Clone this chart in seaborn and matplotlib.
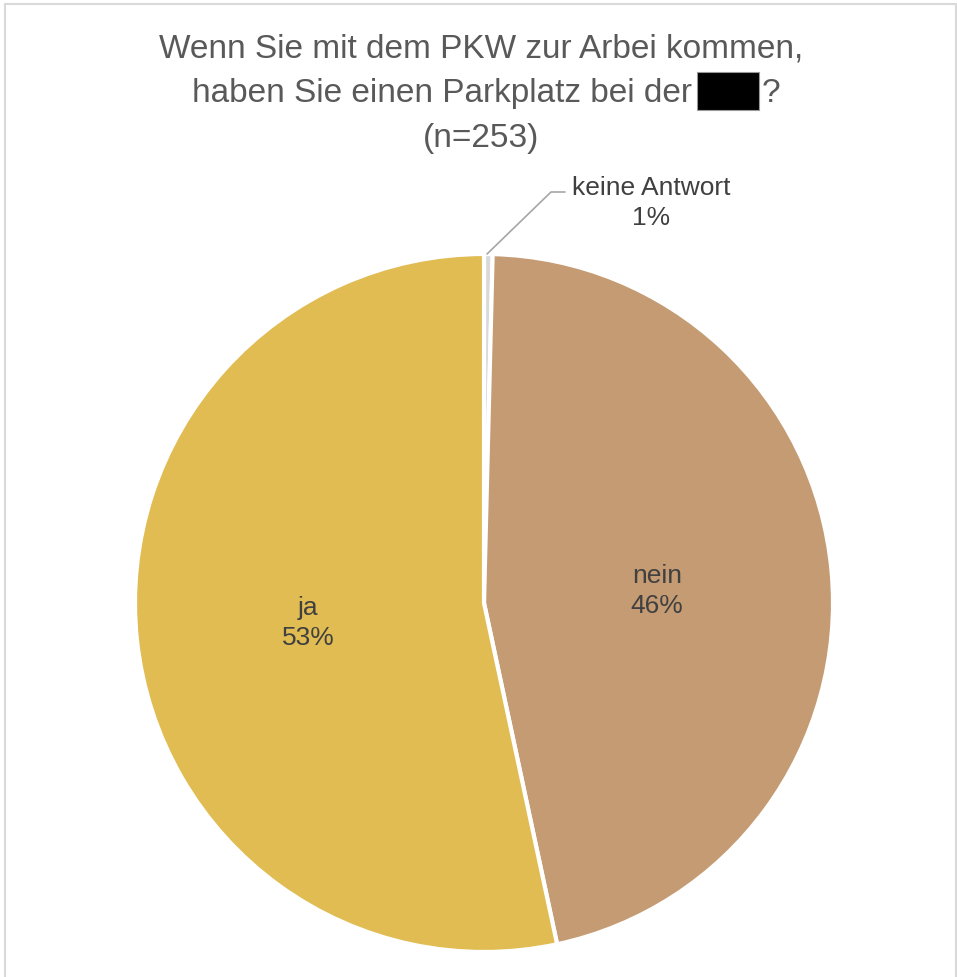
import matplotlib
matplotlib.use("Agg")
import matplotlib.pyplot as plt
import seaborn as sns
from matplotlib.patches import Rectangle
from matplotlib.lines import Line2D

categories = ["keine Antwort", "nein", "ja"]
counts = [1, 117, 135]
pct_labels = ["1%", "46%", "53%"]
colors = ["#D9D9D9", "#C49B72", "#E1BC53"]
title_line1 = "Wenn Sie mit dem PKW zur Arbei kommen,"
title_line2 = "haben Sie einen Parkplatz bei der"
title_line3 = "(n=253)"

sns.set_theme(style="white")
plt.rcParams['font.family'] = ['Liberation Sans', 'DejaVu Sans']

W, H = 957, 977
fig = plt.figure(figsize=(W / 100, H / 100), dpi=100)
fig.patch.set_facecolor("white")

cx, cy, r = 484, 603, 349
ax = fig.add_axes([(cx - r) / W, (H - cy - r) / H, 2 * r / W, 2 * r / H])
ax.pie(counts, colors=colors, startangle=90, counterclock=False,
       wedgeprops=dict(edgecolor="white", linewidth=3))
ax.set_xlim(-1, 1)
ax.set_ylim(-1, 1)
ax.set_aspect("equal")
ax.axis("off")


def d(px, py):
    return ((px - cx) / r, (cy - py) / r)


txt = "#404040"
fs_lab = 19
ls = 1.35
x, y = d(657, 591)
ax.text(x, y, f"{categories[1]}\n{pct_labels[1]}", ha="center", va="center",
        fontsize=fs_lab, color=txt, linespacing=ls)
x, y = d(308, 623)
ax.text(x, y, f"{categories[2]}\n{pct_labels[2]}", ha="center", va="center",
        fontsize=fs_lab, color=txt, linespacing=ls)
# outside label with leader line
p0, p1, p2 = d(487, 254), d(551, 192), d(565, 192)
ax.plot([p0[0], p1[0], p2[0]], [p0[1], p1[1], p2[1]], color="#A6A6A6", lw=1.2,
        clip_on=False)
x, y = d(651, 203)
ax.text(x, y, f"{categories[0]}\n{pct_labels[0]}", ha="center", va="center",
        fontsize=fs_lab, color=txt, linespacing=ls)

# title
tcol = "#595959"
tfs = 24
fig.text(481 / W, 1 - 57 / H, title_line1, ha="center", va="baseline", fontsize=tfs, color=tcol)
fig.text(692 / W, 1 - 102 / H, title_line2, ha="right", va="baseline", fontsize=tfs, color=tcol)
fig.add_artist(Rectangle((697 / W, 1 - 110 / H), 62 / W, 38 / H, transform=fig.transFigure,
                         facecolor="black", edgecolor="#999999", linewidth=0.8))
fig.text(762 / W, 1 - 102 / H, "?", ha="left", va="baseline", fontsize=tfs, color=tcol)
fig.text(481 / W, 1 - 147 / H, title_line3, ha="center", va="baseline", fontsize=tfs, color=tcol)

# chart frame
fc = "#D9D9D9"
fig.add_artist(Line2D([5 / W, 5 / W], [0, 1 - 4 / H], transform=fig.transFigure, color=fc, lw=1.5))
fig.add_artist(Line2D([5 / W, 956 / W], [1 - 4 / H, 1 - 4 / H], transform=fig.transFigure, color=fc, lw=1.5))
fig.add_artist(Line2D([956 / W, 956 / W], [0, 1 - 4 / H], transform=fig.transFigure, color=fc, lw=1.5))

fig.savefig("out.png", dpi=100, facecolor="white")
